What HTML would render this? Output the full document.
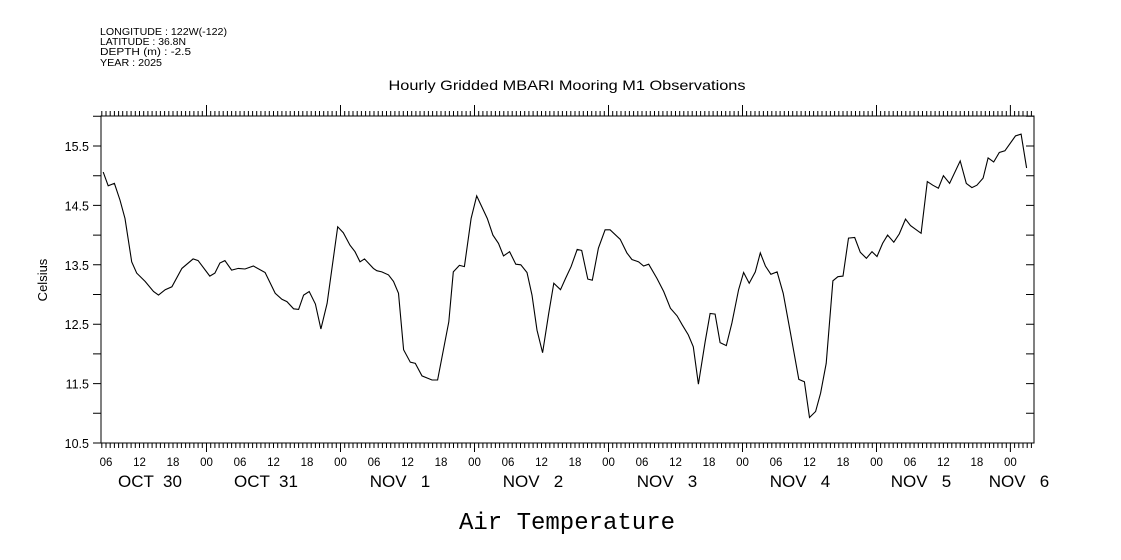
<!DOCTYPE html>
<html><head><meta charset="utf-8"><style>
body{margin:0;background:#fff;}
svg{display:block;font-family:"Liberation Sans",sans-serif;}
</style></head><body>
<svg id="chart" width="1121" height="560" viewBox="0 0 1121 560">
<g font-size="10" fill="#000">
<text x="100" y="35" textLength="127" lengthAdjust="spacingAndGlyphs">LONGITUDE : 122W(-122)</text>
<text x="100" y="45" textLength="86" lengthAdjust="spacingAndGlyphs">LATITUDE : 36.8N</text>
<text x="100" y="55" textLength="91" lengthAdjust="spacingAndGlyphs">DEPTH (m) : -2.5</text>
<text x="100" y="66" textLength="62" lengthAdjust="spacingAndGlyphs">YEAR : 2025</text>
</g>
<text x="567" y="90" text-anchor="middle" font-size="14" textLength="357" lengthAdjust="spacingAndGlyphs">Hourly Gridded MBARI Mooring M1 Observations</text>
<text x="567" y="529" text-anchor="middle" font-size="24" font-family="Liberation Mono, monospace">Air Temperature</text>
<text transform="translate(47,280) rotate(-90)" text-anchor="middle" font-size="13">Celsius</text>
<rect x="101" y="116" width="933" height="327" fill="none" stroke="#000" stroke-width="1"/>
<g id="axes"></g>
<path id="line" fill="none" stroke="#000" stroke-width="1.1"/>
</svg>
<script>
const hours=[5.5,6.4,7.5,8.5,9.4,10.6,11.5,13,14.5,15.4,16.6,17.8,19.6,21.6,22.5,24.6,25.5,26.4,27.3,28.5,29.7,30.9,32.4,34.5,36.3,37.5,38.4,39.6,40.5,41.4,42.4,43.5,44.5,45.6,47.5,48.5,49.7,50.6,51.5,52.3,53.9,54.5,55.4,56.6,57.5,58.4,59.3,60.5,61.4,62.6,64.4,65.4,67.4,68.2,69.3,70.2,71.4,72.4,74.3,75.3,76.3,77.2,78.3,79.4,80.3,81.4,82.3,83.2,84.2,85.3,86.2,87.4,88.3,89.3,90.4,91.2,92.3,93.1,94.2,95.4,96.3,98.1,99.3,100.2,101.4,102.3,103.2,104.7,105.9,107.1,108.3,109.2,110.3,111.2,112.1,113.3,114.2,115.1,116.0,117.1,118.1,119.3,120.2,121.2,122.3,123.2,124.1,125.1,126.2,127.3,128.6,130.1,131.1,132.0,133.1,134.0,135.0,136.2,137.1,138.0,139.0,140.1,141.1,142.2,143.2,144.1,145.1,146.0,147.1,148.1,149.2,150.1,152.0,153.1,154.1,155.1,156.0,157.1,159.0,160.1,161.1,162.0,163.1,164.0,165.0,166.0,167.0,168.9,169.9,170.9];
const temps=[15.06,14.83,14.87,14.59,14.28,13.55,13.36,13.22,13.05,12.99,13.08,13.13,13.44,13.6,13.57,13.31,13.36,13.53,13.57,13.41,13.44,13.43,13.48,13.37,13.02,12.92,12.88,12.76,12.75,12.99,13.05,12.84,12.42,12.85,14.14,14.04,13.83,13.72,13.55,13.6,13.44,13.4,13.38,13.33,13.22,13.02,12.07,11.86,11.84,11.63,11.56,11.56,12.54,13.38,13.49,13.47,14.28,14.66,14.28,14.0,13.86,13.65,13.72,13.51,13.5,13.37,12.99,12.4,12.02,12.68,13.19,13.08,13.27,13.47,13.76,13.74,13.26,13.24,13.78,14.09,14.09,13.93,13.7,13.59,13.55,13.48,13.51,13.27,13.05,12.77,12.64,12.49,12.32,12.12,11.49,12.2,12.68,12.67,12.19,12.14,12.52,13.08,13.37,13.19,13.38,13.7,13.48,13.34,13.38,13.02,12.35,11.57,11.53,10.93,11.03,11.34,11.84,13.23,13.3,13.31,13.95,13.96,13.71,13.61,13.72,13.64,13.86,14.0,13.88,14.02,14.27,14.16,14.03,14.9,14.84,14.79,15.0,14.87,15.25,14.87,14.8,14.84,14.96,15.3,15.23,15.39,15.42,15.67,15.7,15.13];
const yTicks=[10.5,11.5,12.5,13.5,14.5,15.5];
const hourLabels=["00","06","12","18"];
const dayLabels=["OCT  30","OCT  31","NOV   1","NOV   2","NOV   3","NOV   4","NOV   5","NOV   6"];

const NS="http://www.w3.org/2000/svg";
const X0=101,X1=1034,Y0=443,Y1=116;
const xs=h=>72.5+h*5.583;
const ys=v=>443-(v-10.5)*59.4;
const hMin=(X0-72.5)/5.583,hMax=(X1-72.5)/5.583;
const ax=document.getElementById('axes');
function mk(tag,attrs,txt){const e=document.createElementNS(NS,tag);for(const k in attrs)e.setAttribute(k,attrs[k]);if(txt!==undefined)e.textContent=txt;ax.appendChild(e);return e;}
let d="";
for(let h=Math.ceil(hMin/0.75)*0.75;h<=hMax;h+=0.75){
  const x=xs(h).toFixed(1);const major=Math.abs(h%24)<0.01;
  d+=`M${x} ${Y0}V${Y0+(major?9:5)}M${x} ${Y1}V${Y1-(major?11:5)}`;
}
const tp=mk('path',{d:d,stroke:'#000','stroke-width':1,fill:'none'});


for(let h=6;h<=hMax;h+=6){
  const t=mk('text',{x:xs(h).toFixed(1),y:466,'text-anchor':'middle','font-size':11.5},hourLabels[(h/6)%4]);
  
  
}
const dayPos=[150,266,400,533,667,800,921,1019];
dayLabels.forEach((s,i)=>{
  const t=mk('text',{x:dayPos[i],y:487,'text-anchor':'middle','font-size':17,'xml:space':'preserve'},s);
  t.setAttribute('style','white-space:pre');
  
  
});
let yd="";
for(let v=10.5;v<=16.0;v+=0.5){const y=ys(v).toFixed(1);yd+=`M${X0-8} ${y}H${X0}M${X1} ${y}H${X1-8}`;}
const yp=mk('path',{d:yd,stroke:'#000','stroke-width':1});


yTicks.forEach(v=>{
  const t=mk('text',{x:X0-12,y:(ys(v)+5).toFixed(1),'text-anchor':'end','font-size':12.5},v.toFixed(1));
  
  
});
document.getElementById('line').setAttribute('d',hours.map((h,i)=>(i?'L':'M')+xs(h).toFixed(1)+' '+ys(temps[i]).toFixed(1)).join(''));
</script>
</body></html>
